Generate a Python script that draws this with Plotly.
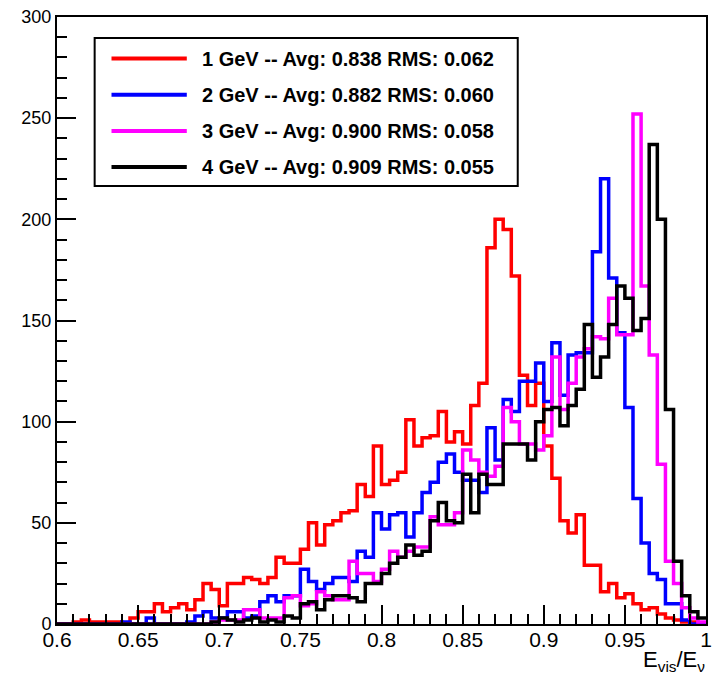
import plotly.graph_objects as go

# ---- data: histogram of E_vis/E_nu, 80 bins from 0.6 to 1.0 ----
bin_low = 0.6
bin_width = 0.005

counts_1gev = [0, 0, 1, 2, 1, 1, 1, 1, 0, 3,
               6, 6, 10, 6, 8, 10, 7, 12, 20, 17,
               9, 20, 20, 23, 22, 20, 23, 33, 30, 30,
               37, 50, 39, 49, 51, 55, 56, 69, 63, 88,
               69, 71, 75, 101, 88, 92, 93, 105, 90, 95,
               89, 108, 119, 186, 200, 195, 172, 123, 108, 119,
               88, 72, 51, 45, 54, 29, 29, 16, 20, 13,
               15, 10, 7, 8, 5, 3, 2, 1, 1, 0]

counts_2gev = [0, 0, 0, 0, 0, 0, 0, 0, 1, 0,
               0, 3, 0, 0, 0, 0, 1, 4, 6, 3,
               3, 6, 6, 3, 4, 11, 14, 11, 14, 14,
               27, 21, 17, 20, 23, 23, 21, 36, 33, 55,
               47, 54, 55, 43, 55, 65, 70, 80, 84, 75,
               71, 71, 65, 97, 81, 111, 105, 120, 120, 129,
               110, 139, 113, 133, 134, 134, 184, 220, 171, 144,
               107, 62, 40, 25, 22, 10, 10, 2, 0, 0]

counts_3gev = [0, 0, 0, 0, 0, 0, 0, 0, 0, 0,
               0, 0, 0, 0, 0, 0, 0, 0, 0, 1,
               2, 2, 2, 7, 7, 3, 3, 3, 13, 14,
               9, 10, 16, 14, 12, 12, 31, 25, 25, 21,
               27, 36, 33, 36, 38, 38, 53, 49, 49, 55,
               86, 81, 75, 73, 78, 107, 100, 89, 89, 86,
               93, 132, 106, 119, 132, 136, 142, 141, 161, 143,
               143, 252, 167, 133, 79, 31, 20, 8, 3, 1]

counts_4gev = [0, 0, 0, 0, 0, 0, 0, 0, 0, 0,
               0, 0, 0, 0, 0, 0, 0, 0, 0, 1,
               3, 2, 1, 2, 3, 1, 2, 1, 4, 3,
               10, 11, 7, 12, 14, 14, 13, 11, 20, 20,
               25, 30, 33, 39, 34, 36, 51, 60, 51, 50,
               74, 55, 74, 69, 69, 89, 89, 89, 81, 100,
               106, 107, 98, 108, 116, 148, 122, 132, 148, 167,
               161, 145, 151, 237, 200, 106, 31, 14, 6, 3]

series_names = ["1 GeV -- Avg: 0.838 RMS: 0.062",
                "2 GeV -- Avg: 0.882 RMS: 0.060",
                "3 GeV -- Avg: 0.900 RMS: 0.058",
                "4 GeV -- Avg: 0.909 RMS: 0.055"]
series_counts = [counts_1gev, counts_2gev, counts_3gev, counts_4gev]
series_colors = ["#ff0000", "#0000ff", "#ff00ff", "#000000"]

x_ticks = [0.6, 0.65, 0.7, 0.75, 0.8, 0.85, 0.9, 0.95, 1.0]
x_tick_text = ["0.6", "0.65", "0.7", "0.75", "0.8", "0.85", "0.9", "0.95", "1"]
y_ticks = [0, 50, 100, 150, 200, 250, 300]

FONT = "Liberation Sans, Arial, Helvetica, sans-serif"

fig = go.Figure()
for name, counts, color in zip(series_names, series_counts, series_colors):
    n = len(counts)
    edges = [bin_low + bin_width * i for i in range(n + 1)]
    ys = list(counts) + [counts[-1]]
    fig.add_trace(go.Scatter(
        x=edges, y=ys, mode="lines", name=name,
        line=dict(color=color, width=3.5, shape="hv"),
        showlegend=False, hoverinfo="skip"))

W, H = 714, 678
ml, mr, mt, mb = 57, 2, 17, 54
pw, ph = W - ml - mr, H - mt - mb

def px_x(p):
    return (p - ml) / pw

def px_y(p):
    return (H - mb - p) / ph

# ROOT-style legend box
shapes = [dict(type="rect", xref="paper", yref="paper",
               x0=px_x(95), x1=px_x(522), y0=px_y(186), y1=px_y(38),
               line=dict(color="black", width=2), fillcolor="white", layer="above")]
annotations = []
for k, (name, color) in enumerate(zip(series_names, series_colors)):
    yy = px_y(58.5 + 36.2 * k)
    shapes.append(dict(type="line", xref="paper", yref="paper",
                       x0=px_x(112), x1=px_x(188), y0=yy, y1=yy,
                       line=dict(color=color, width=4), layer="above"))
    annotations.append(dict(xref="paper", yref="paper", x=px_x(201), y=yy,
                            xanchor="left", yanchor="middle", showarrow=False,
                            text="<b>" + name + "</b>",
                            font=dict(family=FONT, size=20, color="black")))

annotations.append(dict(xref="paper", yref="paper", x=px_x(713), y=px_y(661),
                        xanchor="right", yanchor="middle", showarrow=False,
                        text="E<sub>vis</sub>/E<sub>ν</sub>",
                        font=dict(family=FONT, size=22, color="black")))

fig.update_layout(
    width=W, height=H,
    margin=dict(l=ml, r=mr, t=mt, b=mb, pad=0),
    paper_bgcolor="white", plot_bgcolor="white",
    showlegend=False,
    shapes=shapes, annotations=annotations,
    xaxis=dict(range=[0.6, 1.0], tickvals=x_ticks, ticktext=x_tick_text,
               ticks="inside", ticklen=19, tickwidth=2, tickcolor="black",
               showline=True, linecolor="black", linewidth=2, mirror=True,
               showgrid=False, zeroline=False,
               tickfont=dict(family=FONT, size=21, color="black"),
               ticklabelstandoff=-4, ticklabeloverflow="allow",
               minor=dict(dtick=0.01, tick0=0.6, ticks="inside", ticklen=10,
                          tickwidth=2, tickcolor="black", showgrid=False)),
    yaxis=dict(range=[0, 300], tickvals=y_ticks,
               ticks="inside", ticklen=19, tickwidth=2, tickcolor="black",
               showline=True, linecolor="black", linewidth=2, mirror=True,
               showgrid=False, zeroline=False,
               tickfont=dict(family=FONT, size=18, color="black"),
               minor=dict(dtick=10, tick0=0, ticks="inside", ticklen=10,
                          tickwidth=2, tickcolor="black", showgrid=False)),
)

fig.write_html("out.html")
